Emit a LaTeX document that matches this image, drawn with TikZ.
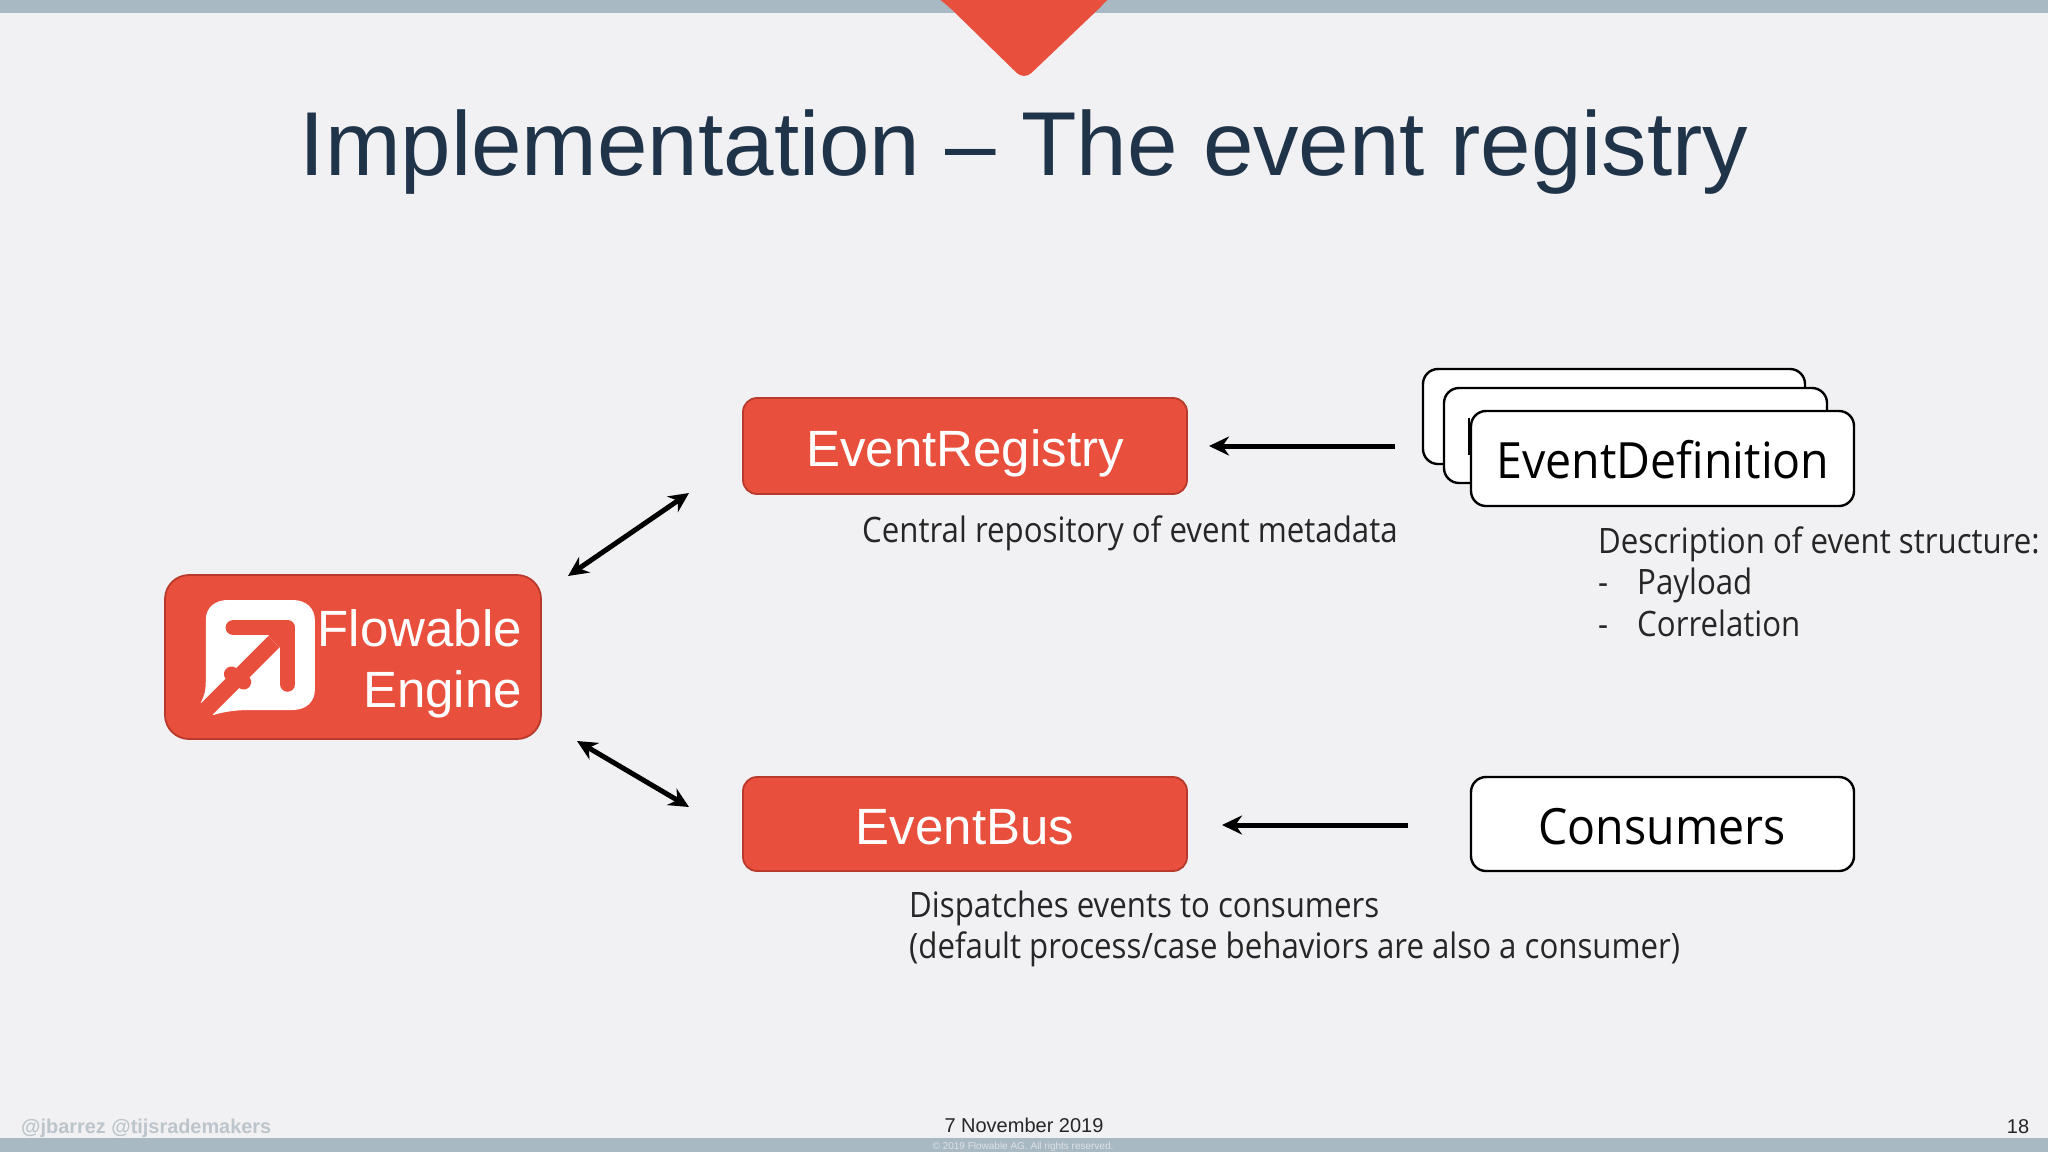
\documentclass[tikz,border=0pt]{standalone}
\usepackage{fontspec}
\setmainfont{Liberation Sans}
\newfontfamily\uifont{Open Sans}[FakeStretch=0.93]
\newfontfamily\notefont{Open Sans}[FakeStretch=0.892]
\usetikzlibrary{arrows.meta}
\definecolor{pagebg}{HTML}{F1F0F2}
\definecolor{barblue}{HTML}{A8B9C3}
\definecolor{flred}{HTML}{E94F3D}
\definecolor{flborder}{HTML}{B93A2C}
\definecolor{titleblue}{HTML}{1F3449}
\definecolor{handle}{HTML}{BCC5CB}
\definecolor{copytext}{HTML}{DDE3E7}
\tikzset{
  x=1pt,y=-1pt,
  redbox/.style={draw=flborder,line width=1.8pt,fill=flred,rounded corners=14pt},
  whitebox/.style={draw=black,line width=2.4pt,fill=white,rounded corners=15pt},
  boxlabel/.style={inner sep=0pt,anchor=base,text=white,font=\fontsize{51}{51}\selectfont},
  bigui/.style={inner sep=0pt,anchor=base,text=black,font=\fontsize{50}{50}\uifont},
  note/.style={inner sep=0pt,anchor=base west,text=black!85,font=\fontsize{35}{35}\notefont},
  link/.style={line width=5pt,draw=black,-{Stealth[length=20pt,width=19pt]}},
  biglink/.style={line width=5pt,draw=black,{Stealth[length=20pt,width=19pt]}-{Stealth[length=20pt,width=19pt]}},
  foot/.style={inner sep=0pt,anchor=base,font=\fontsize{20}{20}\selectfont},
}
\begin{document}
\begin{tikzpicture}
\useasboundingbox (0,0) rectangle (2048,1152);
\fill[pagebg] (0,0) rectangle (2048,1152);
\fill[barblue] (0,0) rectangle (2048,13);
\fill[barblue] (0,1138) rectangle (2048,1152);
\fill[flred,rounded corners=10pt] (942,-40) -- (942,0) -- (1024,80) -- (1108,0) -- (1108,-40) -- cycle;
\fill[flred] (938,-2) -- (1110,-2) -- (1060,40) -- (990,40) -- cycle;

\node[inner sep=0pt,anchor=base,text=titleblue,font=\fontsize{90.8}{90}\selectfont] (title) at (1024,175) {Implementation – The event registry};

% Flowable engine box
\draw[redbox,rounded corners=24pt] (165,575) rectangle (541,739);
\begin{scope}[shift={(130,480)},xscale=1/2.613,yscale=1/3]
  \fill[white] (185,668) .. controls (198,640) and (198,620) .. (198,600) -- (198,420)
     .. controls (198,380) and (225,360) .. (255,360) -- (425,360)
     .. controls (460,360) and (483,385) .. (483,420) -- (483,630)
     .. controls (483,665) and (460,690) .. (425,690) -- (310,690)
     .. controls (280,690) and (245,695) .. (218,705) -- cycle;
  \draw[flred,line width=15.5pt,line cap=round,line join=round] (270,443) -- (412,443) -- (412,612);
  \draw[flred,line width=16pt] (165,728) -- (376,485);
  \draw[flred,line width=16pt] (412,443) -- (376,485);
  \draw[flred,line width=15pt,line cap=round] (265,582) -- (297,606);
\end{scope}
\node[boxlabel,anchor=base east] (fl1) at (522,646) {Flowable};
\node[boxlabel,anchor=base east] (fl2) at (522,707) {Engine};

% registry + bus
\draw[redbox] (743,398) rectangle (1187,494);
\node[boxlabel] (reg) at (965,466) {EventRegistry};
\draw[redbox] (743,777) rectangle (1187,871);
\node[boxlabel] (bus) at (965,844) {EventBus};

% definition stack
\draw[whitebox] (1423,369) rectangle (1805,464);
\draw[whitebox] (1444,388) rectangle (1827,483);
\draw[line width=2.6pt] (1469,418) -- (1469,455);
\draw[whitebox] (1471,411) rectangle (1854,506);
\node[bigui] (def) at (1663,478) {EventDefinition};
\draw[whitebox] (1471,777) rectangle (1854,871);
\node[bigui] (con) at (1662,844) {Consumers};

% notes
\node[note] (n1) at (862,542) {Central repository of event metadata};
\node[note] (n2) at (1598,553) {Description of event structure:};
\node[note] (n3) at (1598,594) {-};
\node[note] (n3b) at (1637,594) {Payload};
\node[note] (n4) at (1598,636) {-};
\node[note] (n4b) at (1637,636) {Correlation};
\node[note] (n5) at (909,917) {Dispatches events to consumers};
\node[note] (n6) at (909,958) {(default process/case behaviors are also a consumer)};

% connectors
\coordinate (a1) at (568,576); \coordinate (a2) at (689,493);
\coordinate (b1) at (577,741); \coordinate (b2) at (689,807);
\coordinate (c1) at (1395,446); \coordinate (c2) at (1209,446);
\coordinate (d1) at (1408,825); \coordinate (d2) at (1222,825);
\draw[biglink] (a1) -- (a2);
\draw[biglink] (b1) -- (b2);
\draw[link] (c1) -- (c2);
\draw[link] (d1) -- (d2);

% footer
\node[foot,anchor=base west,text=handle,font=\fontsize{19.9}{20}\selectfont\bfseries] (h) at (21,1133) {@jbarrez @tijsrademakers};
\node[foot,text=black!85] (date) at (1024,1132) {7 November 2019};
\node[foot,text=black!85] (num) at (2018,1133) {18};
\node[foot,text=copytext,font=\fontsize{10}{10}\selectfont] (copy) at (1023,1149) {© 2019 Flowable AG. All rights reserved.};
\end{tikzpicture}
\end{document}
